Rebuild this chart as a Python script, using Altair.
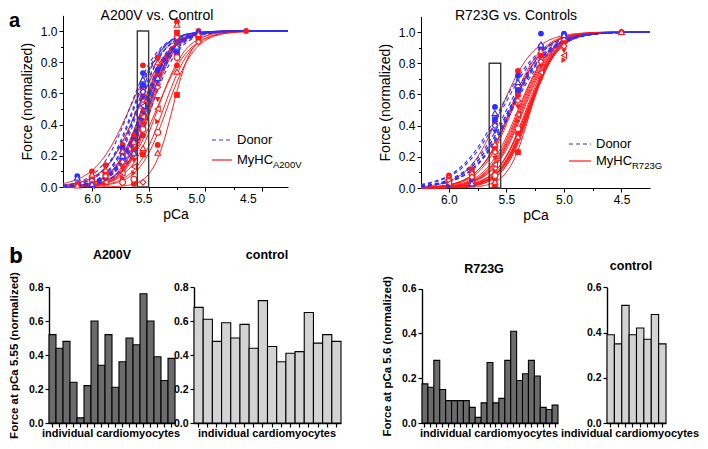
import altair as alt
import numpy as np
import pandas as pd

alt.data_transformers.disable_max_rows()

# =====================================================================
# DATA
# =====================================================================
# ---- a, left panel: A200V vs. Control  (Hill fit per cardiomyocyte) ----
a200v_pca50 = [5.56, 5.52, 5.54, 5.43, 5.29, 5.37, 5.60, 5.48, 5.56,
               5.34, 5.49, 5.55, 5.53, 5.67, 5.60, 5.50, 5.42, 5.50]
a200v_nh = [3.5, 4.0, 3.5, 3.0, 5.0, 3.5, 3.0, 4.0, 3.5,
            3.5, 4.0, 3.5, 4.0, 2.8, 3.0, 4.0, 3.5, 4.0]
ctrl_a_pca50 = [5.64, 5.61, 5.54, 5.60, 5.55, 5.59, 5.52, 5.67,
                5.53, 5.48, 5.51, 5.51, 5.63, 5.54, 5.56, 5.54]
ctrl_a_nh = [3.5, 3.8, 3.4, 3.6, 3.5, 3.7, 3.4, 3.3,
             3.6, 3.5, 3.8, 3.4, 3.5, 3.6, 3.7, 3.5]

a200v_levels = [6.13, 6.0, 5.88, 5.73, 5.63, 5.55, 5.42, 5.25, 5.06, 4.64]
a200v_forces = [
    [0.02, 0.01],
    [0.10, 0.08, 0.06, 0.04, 0.02, 0.01],
    [0.14, 0.11, 0.09, 0.07, 0.05, 0.03, 0.02],
    [0.27, 0.23, 0.19, 0.16, 0.12, 0.09, 0.06, 0.03],
    [0.33, 0.29, 0.24, 0.21, 0.17, 0.13, 0.09, 0.05, 0.02],
    [0.78, 0.62, 0.58, 0.53, 0.49, 0.45, 0.41, 0.37, 0.33, 0.25, 0.21, 0.03],
    [0.83, 0.80, 0.72, 0.64, 0.56, 0.50, 0.42, 0.35, 0.27, 0.22],
    [1.06, 1.04, 0.99, 0.96, 0.93, 0.90, 0.87, 0.83, 0.78, 0.74, 0.59],
    [1.00, 0.98, 0.96, 0.93],
    [1.00],
]
ctrl_a_levels = [6.13, 6.0, 5.88, 5.73, 5.63, 5.55, 5.42, 5.25, 5.06]
ctrl_a_forces = [
    [0.07, 0.06],
    [0.04, 0.02],
    [0.06],
    [0.25, 0.20],
    [0.30, 0.22],
    [0.73, 0.69, 0.65, 0.61, 0.57, 0.52],
    [0.75, 0.70],
    [0.95, 0.90, 0.86],
    [0.99],
]
a200v_window = [5.60, 5.50]   # pCa window (box) around 5.55
a200v_window_top = 1.0

# ---- a, right panel: R723G vs. Controls ----
r723g_pca50 = [5.38, 5.36, 5.46, 5.35, 5.31, 5.32, 5.33, 5.30, 5.30, 5.29, 5.31, 5.46,
               5.30, 5.32, 5.45, 5.55, 5.37, 5.40, 5.47, 5.39, 5.29, 5.30, 5.31]
r723g_nh = [3.2, 3.2, 3.1, 3.2, 3.4, 3.3, 3.4, 3.5, 3.6, 4.5, 3.5, 3.1,
            3.5, 3.3, 3.2, 3.0, 3.2, 3.1, 3.2, 3.2, 3.7, 3.8, 3.6]
ctrl_r_pca50 = [5.48, 5.46, 5.56, 5.48, 5.50, 5.47, 5.54, 5.45]
ctrl_r_nh = [2.5, 2.6, 2.4, 2.5, 2.5, 2.6, 2.4, 2.5]

r723g_levels = [6.0, 5.8, 5.6, 5.4, 5.2, 5.0, 4.5]
r723g_forces = [
    [0.08, 0.07, 0.06, 0.05, 0.04, 0.03, 0.02],
    [0.12, 0.10, 0.09, 0.07, 0.05, 0.03],
    [0.41, 0.28, 0.25, 0.23, 0.19, 0.15, 0.11, 0.08, 0.06, 0.04, 0.02],
    [0.75, 0.66, 0.60, 0.56, 0.52, 0.47, 0.43, 0.38, 0.35, 0.33, 0.23],
    [0.91, 0.88, 0.85, 0.81, 0.78, 0.74, 0.70],
    [0.98, 0.96, 0.94, 0.91, 0.88, 0.85, 0.82],
    [1.00, 1.00],
]
ctrl_r_levels = [6.0, 5.8, 5.6, 5.4, 5.2, 5.0]
ctrl_r_forces = [
    [0.02],
    [0.05, 0.03],
    [0.52, 0.48, 0.44, 0.40, 0.36],
    [0.72, 0.68, 0.63],
    [0.99, 0.92, 0.90],
    [0.99, 0.98, 0.97],
]
r723g_window = [5.65, 5.55]   # pCa window (box) around 5.6
r723g_window_top = 0.8

# ---- b: force at pCa 5.55 / 5.6 for individual cardiomyocytes ----
a200v_bars = [0.52, 0.44, 0.48, 0.24, 0.03, 0.22, 0.60, 0.34, 0.52,
              0.21, 0.36, 0.50, 0.46, 0.76, 0.60, 0.39, 0.25, 0.38]
ctrl_a_bars = [0.68, 0.61, 0.48, 0.59, 0.50, 0.58, 0.44, 0.72,
               0.45, 0.36, 0.41, 0.42, 0.65, 0.47, 0.52, 0.48]
r723g_bars = [0.175, 0.16, 0.28, 0.15, 0.10, 0.10, 0.10, 0.10, 0.07, 0.025, 0.09, 0.27,
              0.09, 0.11, 0.28, 0.41, 0.19, 0.22, 0.28, 0.21, 0.07, 0.06, 0.08]
ctrl_r_bars = [0.39, 0.35, 0.52, 0.39, 0.42, 0.37, 0.48, 0.35]

# =====================================================================
# LAYOUT / STYLE
# =====================================================================
W, H = 692, 433          # whole drawing (page 708x449 minus 8px margin)
OX, OY = 8, 8


def sx(v):
    return v - OX


def sy(v):
    return v - OY


FONT = "Liberation Sans"
LBL_FONT = "Open Sans"
RED = "#ff1a1a"
BLUE = "#2e2eff"
DARK = "#6b6b6b"
LIGHT = "#d3d3d3"
SHAPES = ["circle", "triangle-up", "square", "diamond", "triangle-down",
          "triangle-left", "triangle-right", "circle"]


def qscale(domain, rng):
    return alt.Scale(domain=domain, range=rng, nice=False, zero=False)


def hill_frame(p50s, nhs, lo, hi, tag):
    grid = np.round(np.arange(lo, hi, -0.01), 3)
    frames = []
    for i, (p, n) in enumerate(zip(p50s, nhs)):
        f = 1.0 / (1.0 + 10.0 ** (n * (grid - p)))
        frames.append(pd.DataFrame({"pCa": grid, "F": f, "cell": f"{tag}{i}"}))
    return pd.concat(frames, ignore_index=True)


def point_frame(levels, forces, color):
    rows = []
    for lv, fs in zip(levels, forces):
        for k, f in enumerate(fs):
            rows.append({"pCa": lv, "F": f, "shape": SHAPES[k % len(SHAPES)],
                         "filled": (k % 2 == 0), "color": color})
    return pd.DataFrame(rows)


def top_axes(xoff, yoff, label_offset):
    xa = alt.Axis(orient="bottom", offset=yoff, values=[6.0, 5.5, 5.0, 4.5], format=".1f",
                  title="pCa", titleFont=FONT, titleFontSize=14, titleFontWeight="normal",
                  titleColor="black", titlePadding=3, labelFont=FONT, labelFontSize=12,
                  labelColor="black", labelPadding=2, labelFlush=False, labelOverlap=False,
                  labelOffset=label_offset,
                  tickSize=4, tickColor="black", domainColor="black", grid=False)
    ya = alt.Axis(orient="left", offset=xoff, values=[0.0, 0.2, 0.4, 0.6, 0.8, 1.0], format=".1f",
                  title="Force (normalized)", titleFont=FONT, titleFontSize=14,
                  titleFontWeight="normal", titleColor="black", titlePadding=6,
                  labelFont=FONT, labelFontSize=12, labelColor="black", labelPadding=2,
                  labelFlush=False, labelOverlap=False, tickSize=4, tickColor="black",
                  domainColor="black", grid=False)
    return xa, ya


def minor_axes(xoff, yoff, xvals):
    xa = alt.Axis(orient="bottom", offset=yoff, values=xvals, labels=False, domain=False,
                  tickSize=2.5, tickColor="black", title=None, grid=False)
    ya = alt.Axis(orient="left", offset=xoff, values=[0.1, 0.3, 0.5, 0.7, 0.9], labels=False,
                  domain=False, tickSize=2.5, tickColor="black", title=None, grid=False)
    return xa, ya


def text(t, x, y, size, weight="normal", align="left", baseline="middle", font=FONT, angle=0):
    return alt.Chart(pd.DataFrame({"t": [t]})).mark_text(
        align=align, baseline=baseline, fontSize=size, fontWeight=weight, font=font,
        color="black", angle=angle
    ).encode(x=alt.value(sx(x)), y=alt.value(sy(y)), text="t:N")


def curve_panel(mut_p50, mut_nh, don_p50, don_nh, mut_lv, mut_f, don_lv, don_f,
                window, window_top, xdom, xpix, y0pix, ypx_per_unit, tag, label_offset):
    xsc = qscale(xdom, [sx(xpix[0]), sx(xpix[1])])
    ysc = qscale([0, 1.1], [sy(y0pix), sy(y0pix - 1.1 * ypx_per_unit)])
    xoff = -sx(xpix[0])
    yoff = sy(y0pix) - H
    xa, ya = top_axes(xoff, yoff, label_offset)
    mxa, mya = minor_axes(xoff, yoff, [5.75, 5.25, 4.75])

    mut = hill_frame(mut_p50, mut_nh, xdom[0], xdom[1], tag + "m")
    don = hill_frame(don_p50, don_nh, xdom[0], xdom[1], tag + "d")
    pts_m = point_frame(mut_lv, mut_f, RED)
    pts_d = point_frame(don_lv, don_f, BLUE)
    pts = pd.concat([pts_m, pts_d], ignore_index=True)

    layers = []
    layers.append(alt.Chart(mut).mark_line(color=RED, strokeWidth=1).encode(
        x=alt.X("pCa:Q", scale=xsc, axis=xa), y=alt.Y("F:Q", scale=ysc, axis=ya),
        detail="cell:N"))
    layers.append(alt.Chart(don).mark_line(color=BLUE, strokeWidth=1.1, strokeDash=[4, 3]).encode(
        x=alt.X("pCa:Q", scale=xsc, axis=mxa), y=alt.Y("F:Q", scale=ysc, axis=mya),
        detail="cell:N"))
    for flt, fd in [(True, pts[pts["filled"]]), (False, pts[~pts["filled"]])]:
        if flt:
            mk = alt.Chart(fd).mark_point(filled=True, size=34, opacity=1)
        else:
            mk = alt.Chart(fd).mark_point(filled=False, size=34, opacity=1, strokeWidth=1.1,
                                          fill="white", fillOpacity=1)
        layers.append(mk.encode(
            x=alt.X("pCa:Q", scale=xsc, axis=None), y=alt.Y("F:Q", scale=ysc, axis=None),
            shape=alt.Shape("shape:N", scale=None), color=alt.Color("color:N", scale=None)))
    box = pd.DataFrame({"x0": [window[0]], "x1": [window[1]], "y0": [0.0], "y1": [window_top]})
    layers.append(alt.Chart(box).mark_rect(fillOpacity=0, stroke="#3a3a3a", strokeWidth=1.4).encode(
        x=alt.X("x0:Q", scale=xsc, axis=None), x2="x1:Q",
        y=alt.Y("y0:Q", scale=ysc, axis=None), y2="y1:Q"))
    return layers


def bar_panel(values, color, xpix, y0pix, ytop_pix, ymax, yvals, ytitle, xtitle_center):
    df = pd.DataFrame({"cell": list(range(1, len(values) + 1)), "force": values})
    xoff = -sx(xpix[0])
    yoff = sy(y0pix) - H
    xa = alt.Axis(orient="bottom", offset=yoff, labels=False, ticks=True, tickSize=4,
                  tickColor="black", tickWidth=1.2, domainColor="black", domainWidth=1.4,
                  title=None, grid=False)
    yargs = dict(orient="left", offset=xoff, values=yvals, format=".1f", labelFont=FONT,
                 labelFontSize=10.5, labelFontWeight="bold", labelColor="black", labelPadding=2,
                 labelFlush=False, tickSize=4, tickColor="black", tickWidth=1.2,
                 domainColor="black", domainWidth=1.4, grid=False)
    if ytitle:
        ya = alt.Axis(title=ytitle, titleFont=FONT, titleFontSize=11.5, titleFontWeight="bold",
                      titleColor="black", titlePadding=9, **yargs)
    else:
        ya = alt.Axis(title=None, **yargs)
    bars = alt.Chart(df).mark_bar(color=color, stroke="black", strokeWidth=1.1).encode(
        x=alt.X("cell:O", scale=alt.Scale(range=[sx(xpix[0]), sx(xpix[1])],
                                          paddingInner=0, paddingOuter=0), axis=xa),
        y=alt.Y("force:Q", scale=qscale([0, ymax], [sy(y0pix), sy(ytop_pix)]), axis=ya))
    xtitle = text("individual cardiomyocytes", xtitle_center, 434, 11, weight="bold",
                  align="center")
    return [bars, xtitle]


def legend(x_line, x_text, y1, y2, sub):
    return [
        alt.Chart(pd.DataFrame({"k": [0]})).mark_rule(color=BLUE, strokeWidth=1.2, strokeDash=[4, 3]).encode(
            x=alt.value(sx(x_line[0])), x2=alt.value(sx(x_line[1])), y=alt.value(sy(y1))),
        alt.Chart(pd.DataFrame({"k": [0]})).mark_rule(color=RED, strokeWidth=1.2).encode(
            x=alt.value(sx(x_line[0])), x2=alt.value(sx(x_line[1])), y=alt.value(sy(y2))),
        text("Donor", x_text, y1, 13),
        text("MyHC", x_text, y2, 13),
        text(sub, x_text + 36, y2 + 5, 9.5),
    ]


# tick labels of the left panel sit slightly left of their ticks in the original
a_label_offset = {"condition": [{"test": "datum.value < 4.75", "value": -14},
                                {"test": "datum.value < 5.25", "value": -9},
                                {"test": "datum.value < 5.75", "value": -5}],
                  "value": 0}

layers = []
# ---- panel a ----
layers += curve_panel(a200v_pca50, a200v_nh, ctrl_a_pca50, ctrl_a_nh,
                      a200v_levels, a200v_forces, ctrl_a_levels, ctrl_a_forces,
                      a200v_window, a200v_window_top,
                      [6.256, 4.270], [63, 288], 187, 156, "a", a_label_offset)
layers += curve_panel(r723g_pca50, r723g_nh, ctrl_r_pca50, ctrl_r_nh,
                      r723g_levels, r723g_forces, ctrl_r_levels, ctrl_r_forces,
                      r723g_window, r723g_window_top,
                      [6.243, 4.252], [421, 650], 188, 156, "r", 0)
layers += legend([212, 232], 237, 140, 160, "A200V")
layers += legend([569, 591], 596, 144, 161, "R723G")
layers.append(text("A200V vs. Control", 157, 16, 14, align="center"))
layers.append(text("R723G vs. Controls", 516, 16, 14, align="center"))

# ---- panel b ----
layers += bar_panel(a200v_bars, DARK, [49, 175], 423, 287, 0.8,
                    [0.0, 0.2, 0.4, 0.6, 0.8], "Force at pCa 5.55  (normalized)", 111)
layers += bar_panel(ctrl_a_bars, LIGHT, [194, 341], 423, 287, 0.8,
                    [0.0, 0.2, 0.4, 0.6, 0.8], None, 267)
layers += bar_panel(r723g_bars, DARK, [422, 558], 423, 288.7, 0.6,
                    [0.0, 0.2, 0.4, 0.6], "Force at pCa 5.6 (normalized)", 489)
layers += bar_panel(ctrl_r_bars, LIGHT, [607, 666], 423, 287.3, 0.6,
                    [0.0, 0.2, 0.4, 0.6], None, 630)
layers.append(text("A200V", 112, 255, 12.5, weight="bold", align="center"))
layers.append(text("control", 267, 255, 12.5, weight="bold", align="center"))
layers.append(text("R723G", 484, 269, 12.5, weight="bold", align="center"))
layers.append(text("control", 631, 266, 12.5, weight="bold", align="center"))

# ---- panel letters ----
layers.append(text("a", 9, 26.5, 20, weight="bold", baseline="alphabetic", font=FONT))
layers.append(text("b", 9, 256, 22, weight="bold", baseline="middle", font=LBL_FONT))

chart = alt.LayerChart(layer=layers).resolve_scale(
    x="independent", y="independent", shape="independent", color="independent"
).resolve_axis(x="independent", y="independent").properties(
    width=W, height=H, padding=0, autosize=alt.AutoSizeParams(type="none")
).configure_view(strokeWidth=0)

chart.save("out.html", embed_options={"renderer": "svg", "actions": False})
